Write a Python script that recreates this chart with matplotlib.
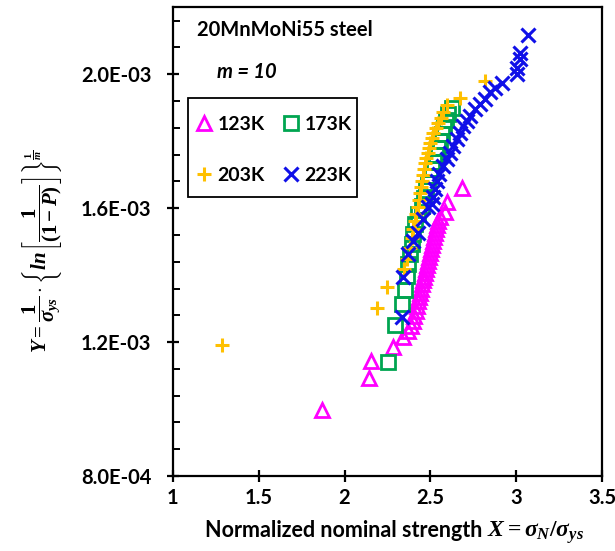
import matplotlib
matplotlib.use("Agg")
import matplotlib.pyplot as plt
from matplotlib.ticker import MultipleLocator, FuncFormatter
from matplotlib.patches import Rectangle

plt.rcParams['font.family'] = ['Lato', 'DejaVu Sans']
plt.rcParams['mathtext.fontset'] = 'custom'
plt.rcParams['mathtext.it'] = 'Liberation Serif:italic:bold'
plt.rcParams['mathtext.rm'] = 'Liberation Serif:bold'
plt.rcParams['mathtext.bf'] = 'Liberation Serif:bold'

# ---- data (Y in units of 1e-3) ----
x_123 = [1.867, 2.142, 2.152, 2.282, 2.340, 2.369, 2.387, 2.399, 2.407, 2.416, 2.422, 2.428,
         2.434, 2.439, 2.445, 2.451, 2.457, 2.463, 2.469, 2.474, 2.480, 2.486, 2.492, 2.498,
         2.503, 2.509, 2.515, 2.521, 2.527, 2.533, 2.538, 2.544, 2.556, 2.585, 2.595, 2.682]
y_123 = [0.996, 1.092, 1.145, 1.184, 1.214, 1.232, 1.247, 1.264, 1.279, 1.294, 1.309, 1.324,
         1.336, 1.348, 1.360, 1.372, 1.384, 1.395, 1.407, 1.419, 1.431, 1.443, 1.455, 1.467,
         1.479, 1.491, 1.503, 1.515, 1.527, 1.538, 1.550, 1.562, 1.574, 1.587, 1.617, 1.661]

x_173 = [2.255, 2.294, 2.333, 2.352, 2.362, 2.371, 2.381, 2.391, 2.399, 2.410, 2.428, 2.449,
         2.463, 2.474, 2.486, 2.498, 2.509, 2.521, 2.533, 2.544, 2.556, 2.568, 2.579, 2.591,
         2.603, 2.624]
y_173 = [1.142, 1.250, 1.314, 1.356, 1.398, 1.433, 1.463, 1.494, 1.524, 1.553, 1.583, 1.607,
         1.631, 1.655, 1.675, 1.696, 1.717, 1.738, 1.759, 1.780, 1.800, 1.821, 1.842, 1.863,
         1.881, 1.900]

x_203 = [1.284, 2.187, 2.245, 2.346, 2.364, 2.381, 2.393, 2.399, 2.410, 2.416, 2.428, 2.434,
         2.439, 2.445, 2.451, 2.457, 2.463, 2.469, 2.474, 2.486, 2.492, 2.498, 2.509, 2.515,
         2.533, 2.544, 2.562, 2.573, 2.597, 2.672, 2.818]
y_203 = [1.190, 1.301, 1.364, 1.419, 1.449, 1.482, 1.512, 1.538, 1.562, 1.583, 1.604, 1.625,
         1.646, 1.663, 1.681, 1.699, 1.717, 1.735, 1.750, 1.765, 1.780, 1.795, 1.809, 1.824,
         1.839, 1.854, 1.869, 1.887, 1.908, 1.929, 1.979]

x_223 = [2.333, 2.340, 2.369, 2.399, 2.428, 2.457, 2.486, 2.508, 2.515, 2.527, 2.538, 2.550,
         2.573, 2.595, 2.614, 2.632, 2.653, 2.672, 2.690, 2.712, 2.731, 2.760, 2.789, 2.818,
         2.847, 2.876, 2.917, 3.003, 3.003, 3.022, 3.022, 3.071]
y_223 = [1.274, 1.393, 1.464, 1.503, 1.527, 1.568, 1.602, 1.613, 1.634, 1.658, 1.681, 1.702,
         1.726, 1.747, 1.766, 1.786, 1.806, 1.825, 1.845, 1.860, 1.875, 1.896, 1.911, 1.926,
         1.946, 1.958, 1.973, 1.999, 2.019, 2.044, 2.063, 2.118]

labels = ['123K', '173K', '203K', '223K']
colors = ['#FF00FF', '#00A550', '#FFC000', '#1010E8']

fig = plt.figure(figsize=(6.15, 5.51), dpi=100)
ax = fig.add_axes([0.281, 0.136, 0.698, 0.851])

s = 1e-3
h1, = ax.plot(x_123, [v * s for v in y_123], linestyle='none', marker='^', ms=10.5, mfc='none',
              mec=colors[0], mew=2.0, label=labels[0], zorder=3)
h2, = ax.plot(x_173, [v * s for v in y_173], linestyle='none', marker='s', ms=10, mfc='none',
              mec=colors[1], mew=2.0, label=labels[1], zorder=3)
h3, = ax.plot(x_203, [v * s for v in y_203], linestyle='none', marker='+', ms=10.5, mfc='none',
              mec=colors[2], mew=2.2, label=labels[2], zorder=4)
h4, = ax.plot(x_223, [v * s for v in y_223], linestyle='none', marker='x', ms=10, mfc='none',
              mec=colors[3], mew=2.2, label=labels[3], zorder=5)

ax.set_xlim(1, 3.5)
ax.set_ylim(0.8e-3, 2.2e-3)
ax.xaxis.set_major_locator(MultipleLocator(0.5))
ax.yaxis.set_major_locator(MultipleLocator(0.4e-3))
ax.yaxis.set_minor_locator(MultipleLocator(0.08e-3))
ax.xaxis.set_major_formatter(FuncFormatter(lambda v, p: f"{v:g}"))
ax.yaxis.set_major_formatter(FuncFormatter(lambda v, p: f"{v:.1E}"))

for sp in ax.spines.values():
    sp.set_linewidth(1.6)
ax.tick_params(axis='both', which='major', direction='inout', length=9, width=1.6,
               labelsize=14.5)
ax.tick_params(axis='y', which='major', pad=11)
ax.tick_params(axis='x', which='major', pad=4)
ax.tick_params(axis='y', which='minor', direction='in', length=5, width=1.4)
for lab in ax.get_xticklabels() + ax.get_yticklabels():
    lab.set_fontweight('bold')

# x-axis title: words + math part (math rendered larger, as in the reference)
fig.text(482 / 615, 1 - 537 / 551, 'Normalized nominal strength', fontsize=15.5,
         fontweight='bold', ha='right', va='baseline')
fig.text(487 / 615, 1 - 537 / 551, r'$X = \sigma_N/\sigma_{ys}$', fontsize=17,
         ha='left', va='baseline')

ax.set_ylabel(r'$Y = \dfrac{1}{\sigma_{ys}}\cdot\left\{ln\left[\dfrac{1}{(1-P)}\right]\right\}^{\frac{1}{m}}$',
              fontsize=15)
ax.yaxis.set_label_coords(-0.252, 0.48)

ax.text(0.057, 0.952, '20MnMoNi55 steel', transform=ax.transAxes, fontsize=14.5,
        fontweight='bold', va='center', ha='left')
ax.text(0.103, 0.862, 'm = 10', transform=ax.transAxes, fontsize=14.5,
        fontweight='bold', style='italic', va='center', ha='left')

# legend frame drawn as a rectangle, entries as a frameless legend
ax.add_patch(Rectangle((0.035, 0.595), 0.394, 0.211, transform=ax.transAxes,
                       facecolor='white', edgecolor='black', linewidth=1.3, zorder=6))
leg = ax.legend([h1, h3, h2, h4], [labels[0], labels[2], labels[1], labels[3]],
                loc='upper left', bbox_to_anchor=(0.054, 0.768), ncol=2,
                frameon=False, fontsize=14, labelspacing=1.74, handlelength=0.8,
                handletextpad=0.3, columnspacing=0.95, borderpad=0, borderaxespad=0)
leg.set_zorder(7)
for t in leg.get_texts():
    t.set_fontweight('bold')

fig.savefig('out.png', dpi=100)
